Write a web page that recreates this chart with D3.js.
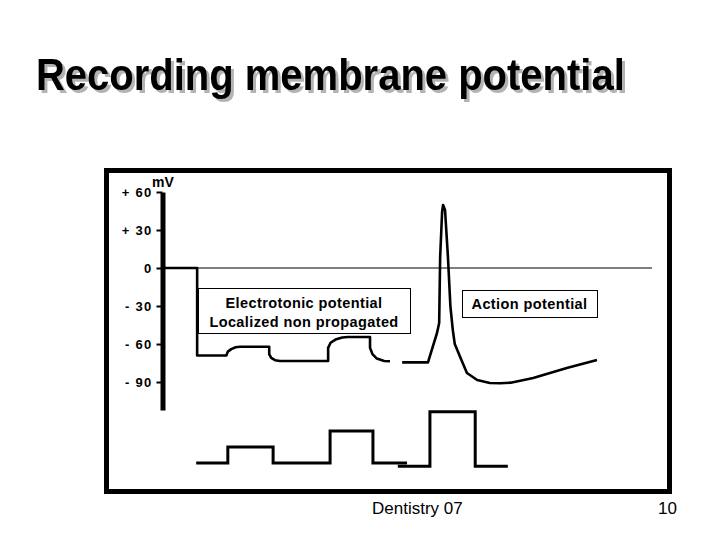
<!DOCTYPE html>
<html>
<head>
<meta charset="utf-8">
<script src="https://cdn.jsdelivr.net/npm/d3@7"></script>
<style>
  body { margin: 0; background: #fff; }
  svg { font-family: "Liberation Sans", Arial, sans-serif; }
</style>
</head>
<body>
<div id="chart"></div>
<script>
// membrane potential trace, electrotonic part (time in ms, potential in mV)
var electroT  = [0, 6.6, 6.6, 12.6, 12.9, 13.6, 14.5, 15.4, 21.4, 21.4, 21.8, 22.6, 23.6, 33.5, 33.5, 34.0, 35.0, 36.4, 37.5, 42.1, 42.1, 42.6, 43.5, 45.0, 46.2];
var electroMv = [0, 0, -69, -69, -66, -64, -62.6, -62.2, -62.2, -68, -71, -72.8, -73.4, -73.4, -63, -59, -56.5, -54.8, -54.5, -54.5, -63, -68, -71.5, -73.4, -73.6];

// action potential part
var actionT  = [48.7, 54.0, 55.85, 56.3, 56.5, 56.9, 57.1, 57.5, 58.1, 58.6, 59.1, 59.5, 60.8, 62.0, 64.1, 66.7, 68.8, 71.0, 75.6, 82.5, 88.7];
var actionMv = [-74.5, -74.5, -51.3, -43.4, 8.7, 44.2, 49.7, 45.8, 8.7, -30, -49, -60, -72, -82.9, -88.4, -90.8, -91, -90.5, -86.8, -79, -72.6];

// stimulus pulses (arbitrary units)
var stimT1   = [6.4, 12.9, 12.9, 22.2, 22.2, 33.9, 33.9, 42.7, 42.7, 49.7];
var stimAmp1 = [0, 0, 1, 1, 0, 0, 2, 2, 0, 0];
var stimT2   = [47.8, 54.4, 54.4, 63.7, 63.7, 70.4];
var stimAmp2 = [-0.2, -0.2, 3.2, 3.2, -0.2, -0.2];

var yTicks = [60, 30, 0, -30, -60, -90];
var yTickLabels = ["+ 60", "+ 30", "0", "- 30", "- 60", "- 90"];

var W = 720, H = 540;
var svg = d3.select("#chart").append("svg").attr("width", W).attr("height", H);

// drop shadow for the title
var f = svg.append("defs").append("filter").attr("id", "shadow")
    .attr("x", "-5%").attr("y", "-20%").attr("width", "115%").attr("height", "150%");
f.append("feOffset").attr("in", "SourceAlpha").attr("dx", 3).attr("dy", 3).attr("result", "off");
f.append("feComponentTransfer").attr("in", "off").attr("result", "grey")
  .append("feFuncA").attr("type", "linear").attr("slope", 0.3);
var m = f.append("feMerge");
m.append("feMergeNode").attr("in", "grey");
m.append("feMergeNode").attr("in", "SourceGraphic");

svg.append("text").attr("x", 36).attr("y", 90)
    .attr("font-size", 40).attr("font-weight", "bold").attr("fill", "#000")
    .attr("transform", "translate(0,-9) scale(1,1.1)")
    .attr("filter", "url(#shadow)")
    .text("Recording membrane potential");

// frame
svg.append("rect")
    .attr("x", 106.5).attr("y", 170.5).attr("width", 563).attr("height", 321)
    .attr("fill", "none").attr("stroke", "#000").attr("stroke-width", 5);

var x = d3.scaleLinear().domain([0, 100]).range([165, 652]);
var y = d3.scaleLinear().domain([-112, 60]).range([409.9, 192]);
var ys = d3.scaleLinear().domain([0, 1]).range([463, 447]);

// y axis
var yAxis = svg.append("g")
    .attr("transform", "translate(162.5,0)")
    .call(d3.axisLeft(y).tickValues(yTicks).tickSize(6).tickSizeOuter(0).tickPadding(4)
        .tickFormat(function(d, i) { return yTickLabels[i]; }));
yAxis.select(".domain").attr("stroke-width", 5);
yAxis.selectAll(".tick line").attr("stroke-width", 2);
yAxis.selectAll(".tick text")
    .attr("font-family", "Liberation Sans, Arial, sans-serif")
    .attr("font-size", 13).attr("font-weight", "bold")
    .attr("letter-spacing", 1.3).attr("fill", "#000");

svg.append("text").attr("x", 152).attr("y", 187)
    .attr("font-size", 14).attr("font-weight", "bold").text("mV");

// zero line
svg.append("line")
    .attr("x1", x(0)).attr("x2", x(100)).attr("y1", y(0)).attr("y2", y(0))
    .attr("stroke", "#000").attr("stroke-width", 1);

// label boxes
function labelBox(x0, y0, w, h, lines, baseY) {
  svg.append("rect").attr("x", x0 + 0.5).attr("y", y0 + 0.5).attr("width", w).attr("height", h)
      .attr("fill", "#fff").attr("stroke", "#000").attr("stroke-width", 1);
  lines.forEach(function(t, i) {
    svg.append("text").attr("x", x0 + w / 2).attr("y", baseY + i * 19)
        .attr("text-anchor", "middle").attr("font-size", 14.5).attr("font-weight", "bold")
        .attr("letter-spacing", 0.4).text(t);
  });
}
labelBox(198, 288, 212, 45, ["Electrotonic potential", "Localized non propagated"], 308);
labelBox(462, 290, 135, 27, ["Action potential"], 309);

// traces
var line = d3.line().x(function(d) { return x(d[0]); }).y(function(d) { return y(d[1]); });
function draw(ts, vs) {
  svg.append("path").datum(d3.zip(ts, vs)).attr("d", line)
      .attr("fill", "none").attr("stroke", "#000").attr("stroke-width", 2.6)
      .attr("stroke-linejoin", "round");
}
draw(electroT, electroMv);
draw(actionT, actionMv);

var sline = d3.line().x(function(d) { return x(d[0]); }).y(function(d) { return ys(d[1]); });
[[stimT1, stimAmp1], [stimT2, stimAmp2]].forEach(function(s) {
  svg.append("path").datum(d3.zip(s[0], s[1])).attr("d", sline)
      .attr("fill", "none").attr("stroke", "#000").attr("stroke-width", 3)
      .attr("stroke-linejoin", "miter");
});

// footer
svg.append("text").attr("x", 372).attr("y", 514).attr("font-size", 17).text("Dentistry 07");
svg.append("text").attr("x", 677).attr("y", 514).attr("text-anchor", "end").attr("font-size", 17).text("10");
</script>
</body>
</html>
